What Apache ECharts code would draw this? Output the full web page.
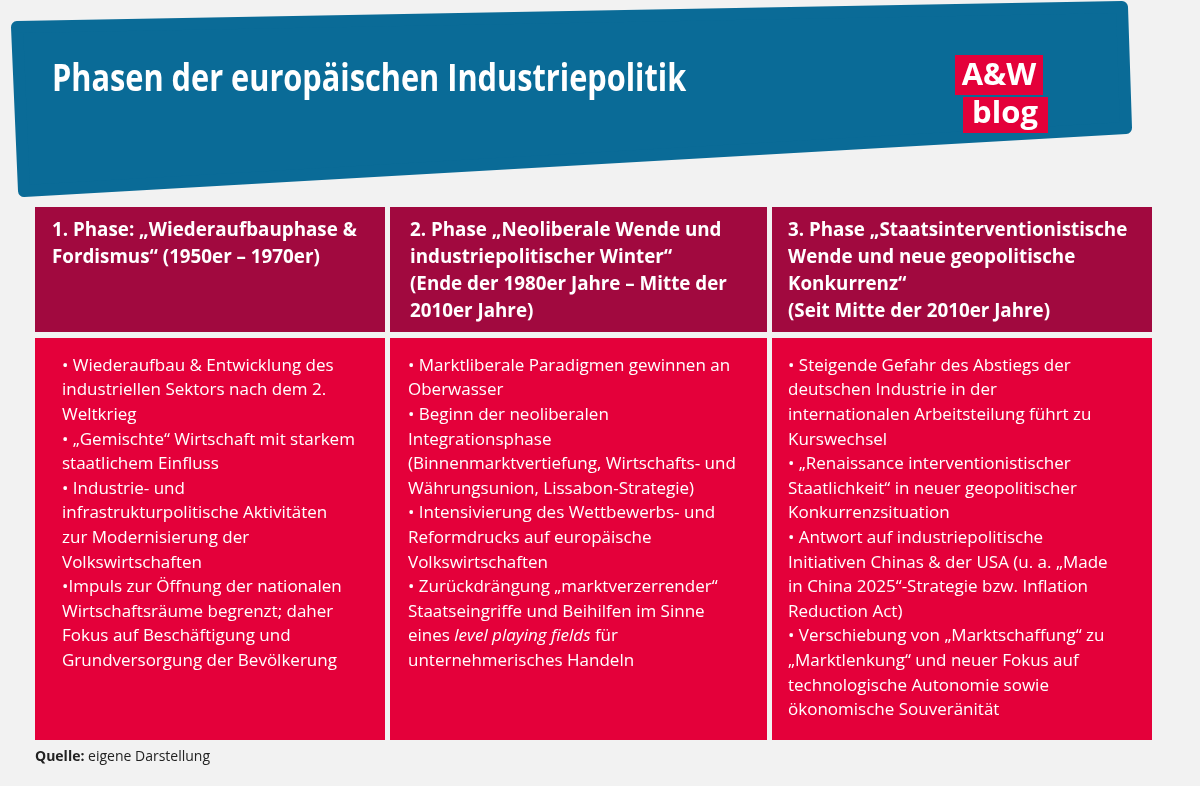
<!DOCTYPE html>
<html><head><meta charset="utf-8">
<script src="https://cdn.jsdelivr.net/npm/echarts@6/dist/echarts.min.js"></script>
<style>html,body{margin:0;padding:0;background:#f2f2f2}#c{width:1200px;height:786px}</style>
</head><body><div id="c"></div>
<script>
const title = "Phasen der europäischen Industriepolitik";
const headers = [
  ["1. Phase: „Wiederaufbauphase &", "Fordismus“ (1950er – 1970er)"],
  ["2. Phase „Neoliberale Wende und", "industriepolitischer Winter“", "(Ende der 1980er Jahre – Mitte der", "2010er Jahre)"],
  ["3. Phase „Staatsinterventionistische", "Wende und neue geopolitische", "Konkurrenz“", "(Seit Mitte der 2010er Jahre)"]
];
const bodies = [
  ["• Wiederaufbau & Entwicklung des","industriellen Sektors nach dem 2.","Weltkrieg","• „Gemischte“ Wirtschaft mit starkem","staatlichem Einfluss","• Industrie- und","infrastrukturpolitische Aktivitäten","zur Modernisierung der","Volkswirtschaften","•Impuls zur Öffnung der nationalen","Wirtschaftsräume begrenzt; daher","Fokus auf Beschäftigung und","Grundversorgung der Bevölkerung"],
  ["• Marktliberale Paradigmen gewinnen an","Oberwasser","• Beginn der neoliberalen","Integrationsphase","(Binnenmarktvertiefung, Wirtschafts- und","Währungsunion, Lissabon-Strategie)","• Intensivierung des Wettbewerbs- und","Reformdrucks auf europäische","Volkswirtschaften","• Zurückdrängung „marktverzerrender“","Staatseingriffe und Beihilfen im Sinne","eines {i|level playing fields} für","unternehmerisches Handeln"],
  ["• Steigende Gefahr des Abstiegs der","deutschen Industrie in der","internationalen Arbeitsteilung führt zu","Kurswechsel","• „Renaissance interventionistischer","Staatlichkeit“ in neuer geopolitischer","Konkurrenzsituation","• Antwort auf industriepolitische","Initiativen Chinas & der USA (u. a. „Made","in China 2025“-Strategie bzw. Inflation","Reduction Act)","• Verschiebung von „Marktschaffung“ zu","„Marktlenkung“ und neuer Fokus auf","technologische Autonomie sowie","ökonomische Souveränität"]
];
const source = ["Quelle:", " eigene Darstellung"];

const cols = [{x:35,w:350,hx:52,bx:62},{x:390,w:377,hx:410,bx:408},{x:772,w:380,hx:788,bx:788}];
const g = [];
g.push({type:'polygon',shape:{points:[[17,27],[1122,7],[1126,128],[24,191]]},style:{fill:'#0a6b97',stroke:'#0a6b97',lineWidth:12,lineJoin:'round'}});
g.push({type:'text',x:52,y:80,scaleX:0.83,style:{text:title,fill:'#fff',font:'bold 37px "Open Sans",sans-serif',verticalAlign:'middle'}});
g.push({type:'rect',shape:{x:955,y:55,width:88,height:40},style:{fill:'#e4003a'}});
g.push({type:'text',x:999,y:76,style:{text:'A&W',fill:'#fff',font:'bold 31px "Open Sans",sans-serif',align:'center',verticalAlign:'middle'}});
g.push({type:'rect',shape:{x:963,y:97,width:85,height:36},style:{fill:'#e4003a'}});
g.push({type:'text',x:1005,y:114,style:{text:'blog',fill:'#fff',font:'bold 31px "Open Sans",sans-serif',align:'center',verticalAlign:'middle'}});
cols.forEach((c,i)=>{
  g.push({type:'rect',shape:{x:c.x,y:207,width:c.w,height:125},style:{fill:'#a1093f'}});
  g.push({type:'rect',shape:{x:c.x,y:338,width:c.w,height:402},style:{fill:'#e4003a'}});
  headers[i].forEach((t,j)=>g.push({type:'text',x:c.hx,y:231+j*27,style:{text:t,fill:'#fff',font:'bold 18.8px "Open Sans",sans-serif',verticalAlign:'middle'}}));
  bodies[i].forEach((t,j)=>g.push({type:'text',x:c.bx,y:366+j*24.6,style:{text:t,fill:'#fff',font:'17px "Open Sans",sans-serif',verticalAlign:'middle',rich:{i:{fontStyle:'italic',fontSize:17,fontFamily:'Open Sans',fill:'#fff'}}}}));
});
g.push({type:'text',x:35,y:757,style:{text:'{b|'+source[0]+'}'+source[1],fill:'#222',font:'14px "Open Sans",sans-serif',verticalAlign:'middle',rich:{b:{fontWeight:'bold',fontSize:14,fontFamily:'Open Sans',fill:'#222'}}}});
const chart = echarts.init(document.getElementById('c'));
chart.setOption({backgroundColor:'#f2f2f2',graphic:{elements:g}});
</script></body></html>
